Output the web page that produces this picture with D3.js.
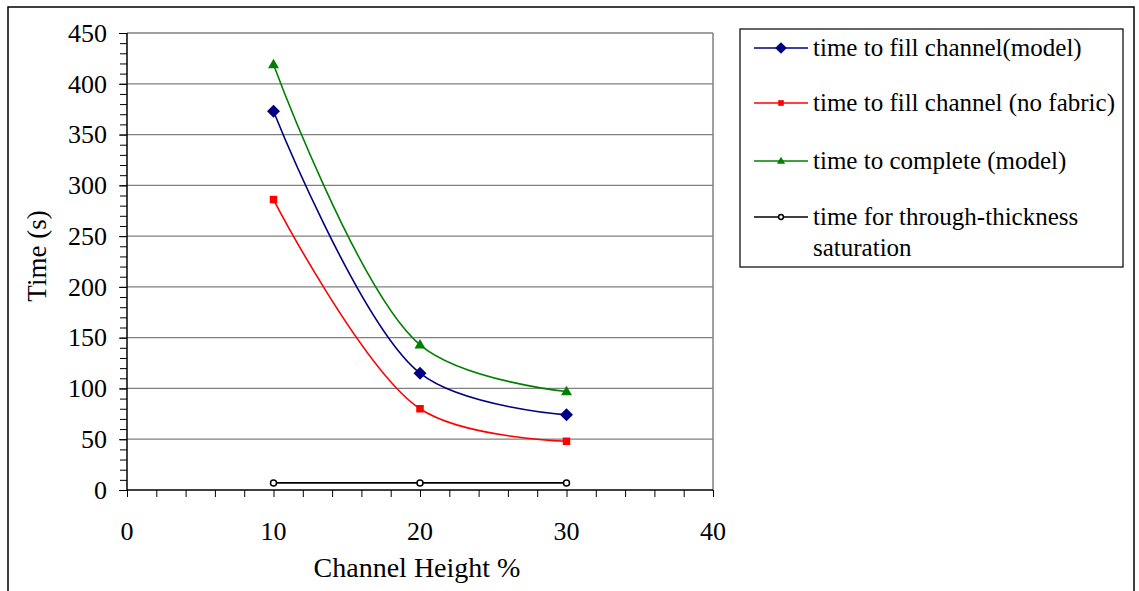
<!DOCTYPE html>
<html><head><meta charset="utf-8">
<script src="https://cdn.jsdelivr.net/npm/d3@7"></script>
<style>body{margin:0;background:#fff}svg{display:block}text{font-family:"Liberation Serif","Times New Roman",serif;fill:#000}</style>
</head><body>
<svg id="c" width="1139" height="591"></svg>
<script>
const channelHeight = [10, 20, 30];
const fillModel = [373, 115, 74];
const fillNoFabric = [286, 80, 48];
const completeModel = [419, 143, 97];
const throughThickness = [7, 7, 7];
const seriesNames = ["time to fill channel(model)", "time to fill channel (no fabric)", "time to complete (model)", "time for through-thickness saturation"];
const yTicks = [0, 50, 100, 150, 200, 250, 300, 350, 400, 450];
const xTicks = [0, 10, 20, 30, 40];

const svg = d3.select("#c");
const x = d3.scaleLinear().domain([0, 40]).range([127, 713]);
const y = d3.scaleLinear().domain([0, 450]).range([490, 33]);

// outer frame
svg.append("rect").attr("x", 8).attr("y", 7).attr("width", 1126).attr("height", 600)
  .attr("fill", "none").attr("stroke", "#000").attr("stroke-width", 1.5);

// gridlines
svg.append("g").selectAll("line").data(yTicks.filter(d => d > 0)).join("line")
  .attr("x1", x(0)).attr("x2", x(40)).attr("y1", d => y(d)).attr("y2", d => y(d))
  .attr("stroke", "#808080").attr("stroke-width", 1.3);
// right border of plot
svg.append("line").attr("x1", x(40)).attr("x2", x(40)).attr("y1", y(450)).attr("y2", y(0))
  .attr("stroke", "#808080").attr("stroke-width", 1.5);

// y axis: minor ticks
svg.append("g").attr("transform", `translate(${x(0)},0)`)
  .call(d3.axisLeft(y).tickValues(d3.range(0, 451, 10)).tickSize(7).tickFormat(""))
  .call(g => g.select(".domain").attr("d", `M0,${y(0)}V${y(450)}`));
// y axis: major ticks + labels
svg.append("g").attr("transform", `translate(${x(0)},0)`)
  .call(d3.axisLeft(y).tickValues(yTicks).tickSize(8).tickFormat(d3.format("d")).tickPadding(12))
  .call(g => g.select(".domain").remove());

// x axis
svg.append("g").attr("transform", `translate(0,${y(0)})`)
  .call(d3.axisBottom(x).tickValues(d3.range(0, 41, 2)).tickSize(7).tickFormat(""))
  .call(g => g.select(".domain").attr("d", `M${x(0)},0H${x(40)}`));
svg.append("g").selectAll("text").data(xTicks).join("text")
  .attr("x", d => x(d)).attr("y", 540).attr("text-anchor", "middle")
  .attr("font-size", 26).text(d => d);

svg.selectAll(".tick text").attr("font-size", 26).attr("font-family", "Liberation Serif").attr("fill", "#000");
svg.selectAll(".tick line").attr("stroke", "#000");
svg.selectAll(".domain").attr("stroke", "#000").attr("stroke-width", 1.5);

// axis titles
svg.append("text").attr("transform", `translate(46,256) rotate(-90)`).attr("text-anchor", "middle")
  .attr("font-size", 27).text("Time (s)");
svg.append("text").attr("x", 417).attr("y", 577).attr("text-anchor", "middle")
  .attr("font-size", 28).text("Channel Height %");

const series = [
  {name: seriesNames[0], vals: fillModel, color: "#000080", sym: "diamond"},
  {name: seriesNames[1], vals: fillNoFabric, color: "#ff0000", sym: "square"},
  {name: seriesNames[2], vals: completeModel, color: "#008000", sym: "triangle"},
  {name: seriesNames[3], vals: throughThickness, color: "#000000", sym: "circle"}
];

function drawMarker(g, sym, color, cx, cy, scale) {
  scale = scale || 1;
  if (sym === "diamond") {
    const r = 6.5 * scale;
    g.append("path").attr("d", `M${cx},${cy - r}L${cx + r},${cy}L${cx},${cy + r}L${cx - r},${cy}Z`).attr("fill", color);
  } else if (sym === "square") {
    const s = 7.5 * scale;
    g.append("rect").attr("x", cx - s / 2).attr("y", cy - s / 2).attr("width", s).attr("height", s).attr("fill", color);
  } else if (sym === "triangle") {
    const w = 11 * scale, h = 9.5 * scale;
    g.append("path").attr("d", `M${cx},${cy - h * 0.6}L${cx + w / 2},${cy + h * 0.4}L${cx - w / 2},${cy + h * 0.4}Z`).attr("fill", color);
  } else {
    g.append("circle").attr("cx", cx).attr("cy", cy).attr("r", 3 * scale)
      .attr("fill", "#fff").attr("stroke", color).attr("stroke-width", 1.5);
  }
}

const line = d3.line().x(d => x(d[0])).y(d => y(d[1])).curve(d3.curveCatmullRom.alpha(0.5));
series.forEach(s => {
  const pts = channelHeight.map((c, i) => [c, s.vals[i]]);
  const g = svg.append("g");
  g.append("path").attr("d", line(pts)).attr("fill", "none").attr("stroke", s.color).attr("stroke-width", 1.6);
  pts.forEach(p => drawMarker(g, s.sym, s.color, x(p[0]), y(p[1]), 1));
});

// legend
const lg = svg.append("g");
lg.append("rect").attr("x", 740).attr("y", 29).attr("width", 383).attr("height", 238)
  .attr("fill", "#fff").attr("stroke", "#000").attr("stroke-width", 1.2);
const rowY = [48, 103, 161, 217];
series.forEach((s, i) => {
  const cy = rowY[i];
  lg.append("line").attr("x1", 754).attr("x2", 808).attr("y1", cy).attr("y2", cy)
    .attr("stroke", s.color).attr("stroke-width", 1.6);
  drawMarker(lg, s.sym, s.color, 781, cy, s.sym === "circle" ? 0.8 : (s.sym === "diamond" ? 0.9 : 0.75));
});
const legendLines = [
  [seriesNames[0], 56], [seriesNames[1], 111], [seriesNames[2], 169],
  ["time for through-thickness", 225], ["saturation", 256]
];
lg.selectAll("text.lt").data(legendLines).join("text").attr("class", "lt")
  .attr("x", 813).attr("y", d => d[1]).attr("font-size", 25).text(d => d[0]);
</script>
</body></html>
